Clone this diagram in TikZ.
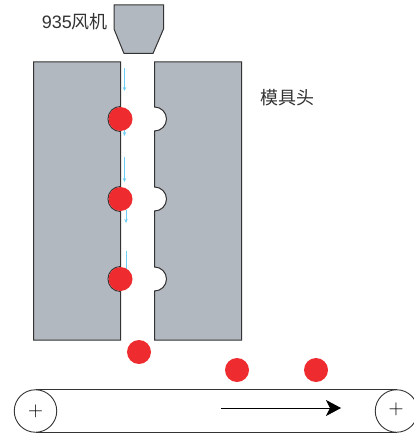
\documentclass[tikz,border=0pt]{standalone}
\usepackage{fontspec}
\setmainfont{Liberation Sans}
\newfontfamily\cjk{Noto Sans CJK SC}
\usetikzlibrary{arrows.meta}
\definecolor{diegray}{HTML}{B2B8C0}
\definecolor{ballred}{HTML}{EE2B2F}
\definecolor{airblue}{HTML}{6CCFF6}
\definecolor{inkgray}{HTML}{333333}
\tikzset{%
	block/.style  = {draw=inkgray, fill=diegray, line width=1pt, line join=miter},
	ball/.style   = {circle, fill=ballred, minimum size=24pt, inner sep=0pt},
	roller/.style = {draw=inkgray, circle, fill=white, minimum size=42.5pt, inner sep=0pt, line width=0.9pt},
	airflow/.style= {airblue, line width=1pt, -{Stealth[length=4pt,width=3.5pt]}},
	label/.style  = {text=inkgray, inner sep=0pt, font=\fontsize{18pt}{20pt}\selectfont},
	plus/.style   = {text=black, inner sep=0pt, font=\fontsize{22pt}{22pt}\selectfont},
}
\begin{document}
\begin{tikzpicture}[x=1pt,y=-1pt]
	\useasboundingbox (0,0) rectangle (413,433);
	% fan
	\draw[block] (114,5) -- (163.5,5) -- (163.5,29) -- (153,53.5) -- (124,53.5) -- (114,29) -- cycle;
	\node[label,anchor=east] (fan) at (108,22) {935{\cjk 风机}};
	% die halves
	\draw[block] (120.5,62) -- (33.5,62) -- (33.5,340) -- (120.5,340) -- (120.5,291.5)
		arc (90:270:12.5) -- (120.5,211.5) arc (90:270:12.5) -- (120.5,131.5) arc (90:270:12.5) -- cycle;
	\draw[block] (154.5,62) -- (241.5,62) -- (241.5,340) -- (154.5,340) -- (154.5,291)
		arc (90:-90:12) -- (154.5,211) arc (90:-90:12) -- (154.5,131) arc (90:-90:12) -- cycle;
	\node[label,anchor=west] (die) at (260,98) {\cjk 模具头};
	% air
	\foreach \x/\yfrom/\yto in {124.5/68/91,124.5/128/136,124.5/157/182,126/210/223}
		\draw[airflow] (\x,\yfrom) -- (\x,\yto);
	\draw[airblue, line width=1pt] (126,251) -- (126,270);
	% balls in the die
	\node[ball] (balla) at (120.5,119) {};
	\node[ball] (ballb) at (120.5,199) {};
	\node[ball] (ballc) at (120.5,279) {};
	% falling balls
	\node[ball] (balld) at (139,352) {};
	\node[ball] (balle) at (237,370) {};
	\node[ball] (ballf) at (316,370) {};
	% belt
	\node[roller] (rollerl) at (35.5,411) {};
	\node[roller] (rollerr) at (396.5,411) {};
	\draw[inkgray, line width=0.9pt] (rollerl.north) -- (rollerr.north);
	\draw[inkgray, line width=0.9pt] (rollerl.south) -- (rollerr.south);
	\node[plus] (plusl) at (rollerl) {$+$};
	\node[plus] (plusr) at (396,409.5) {$+$};
	\coordinate (runa) at (221,408);
	\coordinate (runb) at (341,408);
	\draw[black, line width=0.8pt, -{Stealth[length=15pt,width=16pt,inset=4pt]}] (runa) -- (runb);
\end{tikzpicture}
\end{document}
